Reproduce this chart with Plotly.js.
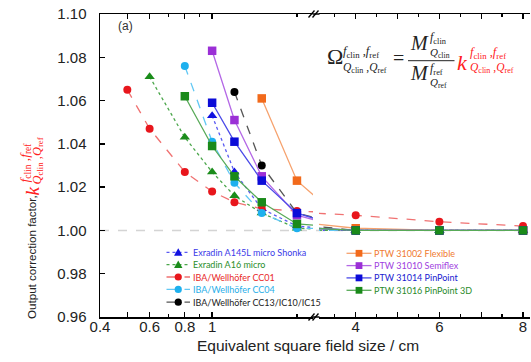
<!DOCTYPE html>
<html><head><meta charset="utf-8">
<script src="https://cdn.plot.ly/plotly-3.0.1.min.js"></script>
<style>html,body{margin:0;padding:0;background:#fff}</style>
</head><body><div id="chart" style="width:531px;height:362px"></div>
<script>
// ---- data (equivalent square field size in cm, output correction factor) ----
const xA145L = [1.0, 1.2, 1.5, 2, 3, 4, 6, 8];
const yA145L = [1.053, 1.027, 1.010, 1.002, 1.000, 1.000, 1.000, 1.000];
const xA16 = [0.6, 0.8, 1.0, 1.2, 1.5, 2, 3, 4, 6, 8];
const yA16 = [1.071, 1.043, 1.027, 1.016, 1.008, 1.001, 1.000, 1.000, 1.000, 1.000];
const xCC01 = [0.5, 0.6, 0.8, 1.0, 1.2, 1.5, 2, 3, 4, 6, 8];
const yCC01 = [1.065, 1.047, 1.027, 1.018, 1.013, 1.010, 1.009, 1.008, 1.007, 1.004, 1.002];
const xCC04 = [0.8, 1.0, 1.2, 1.5, 2, 3, 4, 6, 8];
const yCC04 = [1.076, 1.041, 1.022, 1.008, 1.001, 1.000, 1.000, 1.000, 1.000];
const xCC13 = [1.2, 1.5, 2, 3, 4, 6, 8];
const yCC13 = [1.064, 1.030, 1.008, 1.002, 1.000, 1.000, 1.000];
const xP31002 = [1.5, 2, 3, 4, 6, 8];
const yP31002 = [1.061, 1.023, 1.003, 1.001, 1.000, 1.000];
const xP31010 = [1.0, 1.2, 1.5, 2, 3, 4, 6, 8];
const yP31010 = [1.083, 1.051, 1.025, 1.007, 1.001, 1.000, 1.000, 1.000];
const xP31014 = [1.0, 1.2, 1.5, 2, 3, 4, 6, 8];
const yP31014 = [1.059, 1.041, 1.023, 1.008, 1.001, 1.000, 1.000, 1.000];
const xP31016 = [0.8, 1.0, 1.2, 1.5, 2, 3, 4, 6, 8];
const yP31016 = [1.062, 1.039, 1.025, 1.013, 1.003, 1.001, 1.000, 1.000, 1.000];

const seriesNames = ['Exradin A145L micro Shonka', 'Exradin A16 micro', 'IBA/Wellhöfer CC01',
  'IBA/Wellhöfer CC04', 'IBA/Wellhöfer CC13/IC10/IC15', 'PTW 31002 Flexible',
  'PTW 31010 Semiflex', 'PTW 31014 PinPoint', 'PTW 31016 PinPoint 3D'];
const leftTicks = [0.4, 0.5, 0.6, 0.8, 1];
const leftTickText = ['0.4', '', '0.6', '0.8', '1'];
const leftMinor = [0.7, 0.9, 2];
const rightTicks = [4, 5, 6, 7, 8];
const rightTickText = ['4', '', '6', '', '8'];
const rightMinor = [3.5, 4.5, 5.5, 6.5, 7.5];

// ---- styles ----
const styles = [
  {x: xA145L, y: yA145L, sym: 'triangle-up', mc: '#1212e0', lc: '#5a5af2', dash: 'dot', tc: '#3a3ae8', size: 9},
  {x: xA16, y: yA16, sym: 'triangle-up', mc: '#1a8c1a', lc: '#4aa64a', dash: 'dot', tc: '#2a8e2a', size: 9},
  {x: xCC01, y: yCC01, sym: 'circle', mc: '#e8161c', lc: '#f07272', dash: 'dash', tc: '#e82828', size: 8},
  {x: xCC04, y: yCC04, sym: 'circle', mc: '#1eb0ee', lc: '#62c8f4', dash: 'dash', tc: '#28aee8', size: 8},
  {x: xCC13, y: yCC13, sym: 'circle', mc: '#000000', lc: '#555555', dash: 'dash', tc: '#222222', size: 8},
  {x: xP31002, y: yP31002, sym: 'square', mc: '#f26a1b', lc: '#f6a26e', dash: 'solid', tc: '#f07a30', size: 8.5},
  {x: xP31010, y: yP31010, sym: 'square', mc: '#9b2fd6', lc: '#b468e6', dash: 'solid', tc: '#a040e0', size: 8.5},
  {x: xP31014, y: yP31014, sym: 'square', mc: '#0c0cd8', lc: '#4a4ae8', dash: 'solid', tc: '#1a1ad0', size: 8.5},
  {x: xP31016, y: yP31016, sym: 'square', mc: '#1a8a1a', lc: '#58aa58', dash: 'solid', tc: '#2a8a2a', size: 8.5}
];

const traces = [];
styles.forEach((s, i) => {
  ['x', 'x2'].forEach(ax => {
    traces.push({
      type: 'scatter', mode: 'lines+markers', x: s.x, y: s.y, xaxis: ax, yaxis: 'y',
      name: seriesNames[i], showlegend: false,
      line: {color: s.lc, width: 1.3, dash: s.dash},
      marker: {symbol: s.sym, size: s.size, color: s.mc, line: {width: 0}}
    });
  });
});

// ---- geometry helpers (pixel -> paper) ----
const W = 531, H = 362, L = 100, R = 1, T = 14, B = 45;
const pw = W - L - R, ph = H - T - B;
const fx = x => (x - L) / pw;
const fy = y => (H - B - y) / ph;

const serif = 'Liberation Serif, Times New Roman, serif';
const annotations = [];
const shapes = [];
function ann(text, x, y, o) {
  annotations.push(Object.assign({
    text: text, x: fx(x), y: fy(y), xref: 'paper', yref: 'paper', showarrow: false,
    xanchor: 'left', yanchor: 'middle', font: {family: serif, size: 13, color: '#222'}
  }, o || {}));
}

// (a)
ann('(a)', 116, 26, {font: {family: 'Liberation Sans, Arial, sans-serif', size: 12, color: '#333'}});

// equation
const supFF = '<i>f</i><sub>clin</sub> ,<i>f</i><sub>ref</sub>';
const subQQ = '<i>Q</i><sub>clin</sub> ,<i>Q</i><sub>ref</sub>';
ann('Ω', 325, 56, {font: {family: serif, size: 22, color: '#222'}});
ann(supFF, 341, 52, {font: {family: serif, size: 12.5, color: '#222'}});
ann(subQQ, 341, 68, {font: {family: serif, size: 11.5, color: '#222'}});
ann('=', 398, 58, {xanchor: 'center', font: {family: serif, size: 20, color: '#222'}});
ann('<i>M</i>', 407.5, 43, {font: {family: serif, size: 20, color: '#222'}});
ann('<i>f</i><sub>clin</sub>', 428, 37.5, {font: {family: serif, size: 12, color: '#222'}});
ann('<i>Q</i><sub>clin</sub>', 427.5, 52.5, {font: {family: serif, size: 11, color: '#222'}});
ann('<i>M</i>', 408, 73, {font: {family: serif, size: 20, color: '#222'}});
ann('<i>f</i><sub>ref</sub>', 428, 69, {font: {family: serif, size: 12, color: '#222'}});
ann('<i>Q</i><sub>ref</sub>', 427.5, 82.5, {font: {family: serif, size: 11, color: '#222'}});
shapes.push({type: 'line', xref: 'paper', yref: 'paper', x0: fx(408), x1: fx(454.5), y0: fy(60.7), y1: fy(60.7), line: {color: '#222', width: 1}});
ann('<i>k</i>', 455, 63, {font: {family: serif, size: 22, color: '#ff2020'}});
ann(supFF, 467.5, 53, {font: {family: serif, size: 12.5, color: '#ff2020'}});
ann(subQQ, 467.5, 67.5, {font: {family: serif, size: 11.5, color: '#ff2020'}});

// axis titles
ann('Equivalent square field size / cm', 308, 345.5, {xanchor: 'center', font: {family: 'Liberation Sans, Arial, sans-serif', size: 15.5, color: '#222'}});
ann('Output correction factor,', 31, 257, {xanchor: 'center', textangle: -90,
  font: {family: 'Liberation Sans, Arial, sans-serif', size: 11.6, color: '#222'}});
ann('<i>k</i>', 31.5, 191, {xanchor: 'center', textangle: -90, font: {family: serif, size: 19, color: '#ff2020'}});
ann(supFF, 24.5, 185, {xanchor: 'center', yanchor: 'bottom', textangle: -90, font: {family: serif, size: 13.5, color: '#ff2020'}});
ann(subQQ, 37, 187, {xanchor: 'center', yanchor: 'bottom', textangle: -90, font: {family: serif, size: 12.5, color: '#ff2020'}});

// manual legend (two columns)
const legendFont = 'Lato, Open Sans, sans-serif';
const legRows = [252.3, 264.6, 277, 289.4, 302.2, 253.3, 265.6, 277.9, 290.3];
styles.forEach((s, i) => {
  const left = i < 5;
  const x0 = left ? 166.5 : 346.5, x1 = left ? 190 : 371.5, cx = (x0 + x1) / 2, cy = legRows[i];
  shapes.push({type: 'line', xref: 'paper', yref: 'paper', x0: fx(x0), x1: fx(x1), y0: fy(cy), y1: fy(cy),
    line: {color: s.lc, width: 1.3, dash: s.dash}});
  if (s.sym === 'circle') {
    shapes.push({type: 'circle', xref: 'paper', yref: 'paper', x0: fx(cx - 3.6), x1: fx(cx + 3.6), y0: fy(cy + 3.6), y1: fy(cy - 3.6),
      fillcolor: s.mc, line: {width: 0}});
  } else if (s.sym === 'square') {
    shapes.push({type: 'rect', xref: 'paper', yref: 'paper', x0: fx(cx - 3.4), x1: fx(cx + 3.4), y0: fy(cy + 3.4), y1: fy(cy - 3.4),
      fillcolor: s.mc, line: {width: 0}});
  } else {
    shapes.push({type: 'path', xref: 'paper', yref: 'paper',
      path: `M${fx(cx - 4.2)},${fy(cy + 3.4)} L${fx(cx + 4.2)},${fy(cy + 3.4)} L${fx(cx)},${fy(cy - 4)} Z`,
      fillcolor: s.mc, line: {width: 0}});
  }
  ann(seriesNames[i], left ? 191 : 372, cy, {font: {family: legendFont, size: 9, color: s.tc}});
});

// reference line at 1.00
shapes.push({type: 'line', xref: 'paper', yref: 'y', x0: 0, x1: 1, y0: 1, y1: 1, layer: 'below',
  line: {color: '#d4d4d4', width: 1.5, dash: 'dash'}});

// axis break: bridge + // marks
[T, H - B].forEach(yy => {
  shapes.push({type: 'line', xref: 'paper', yref: 'paper', x0: fx(312.5), x1: fx(319.5), y0: fy(yy), y1: fy(yy), line: {color: '#000', width: 1.5}});
  [311.5, 315.5].forEach(c => {
    shapes.push({type: 'line', xref: 'paper', yref: 'paper', x0: fx(c - 3), x1: fx(c + 3), y0: fy(yy + 3.5), y1: fy(yy - 3.5), line: {color: '#000', width: 1.3}});
  });
});

const tickFont = {family: 'Liberation Sans, Arial, sans-serif', size: 15, color: '#222'};
const xCommon = {
  anchor: 'y', showline: true, linecolor: '#000', linewidth: 1.5, mirror: 'ticks',
  ticks: 'inside', ticklen: 5, tickwidth: 1.3, tickcolor: '#000', showgrid: false, zeroline: false,
  tickfont: tickFont, tickmode: 'array', ticklabelstandoff: -5, fixedrange: true
};
// right segment: 41.83 px per cm, x=3 sits at 313.9 px
const rightStartPx = 319;
const layout = {
  width: W, height: H, margin: {l: L, r: R, t: T, b: B}, paper_bgcolor: '#fff', plot_bgcolor: '#fff',
  showlegend: false,
  xaxis: Object.assign({}, xCommon, {type: 'log', domain: [0, fx(313)], range: [Math.log10(0.4), 0.358],
    tickvals: leftTicks, ticktext: leftTickText,
    minor: {tickmode: 'array', tickvals: leftMinor, ticks: 'inside', ticklen: 3, tickwidth: 1.3, tickcolor: '#000', showgrid: false}}),
  xaxis2: Object.assign({}, xCommon, {type: 'linear', domain: [fx(rightStartPx), 1], range: [3 + (rightStartPx - 313.9) / 41.83, 8.167],
    tickvals: rightTicks, ticktext: rightTickText,
    minor: {tickmode: 'array', tickvals: rightMinor, ticks: 'inside', ticklen: 3, tickwidth: 1.3, tickcolor: '#000', showgrid: false}}),
  yaxis: {anchor: 'x', range: [0.96, 1.10], tickmode: 'linear', tick0: 0.96, dtick: 0.02, tickformat: '.2f',
    showline: true, linecolor: '#000', linewidth: 1.5, ticks: 'inside', ticklen: 5, tickwidth: 1.3, tickcolor: '#000',
    showgrid: false, zeroline: false, tickfont: tickFont, ticklabelstandoff: 9, fixedrange: true},
  yaxis2: {anchor: 'x2', overlaying: 'y', side: 'right', range: [0.96, 1.10], tickmode: 'linear', tick0: 0.96, dtick: 0.02,
    showline: true, linecolor: '#000', linewidth: 1.5, ticks: 'inside', ticklen: 5, tickwidth: 1.3, tickcolor: '#000',
    showticklabels: false, showgrid: false, zeroline: false, fixedrange: true},
  annotations: annotations, shapes: shapes
};
Plotly.newPlot('chart', traces, layout, {staticPlot: true, displayModeBar: false});
</script></body></html>
